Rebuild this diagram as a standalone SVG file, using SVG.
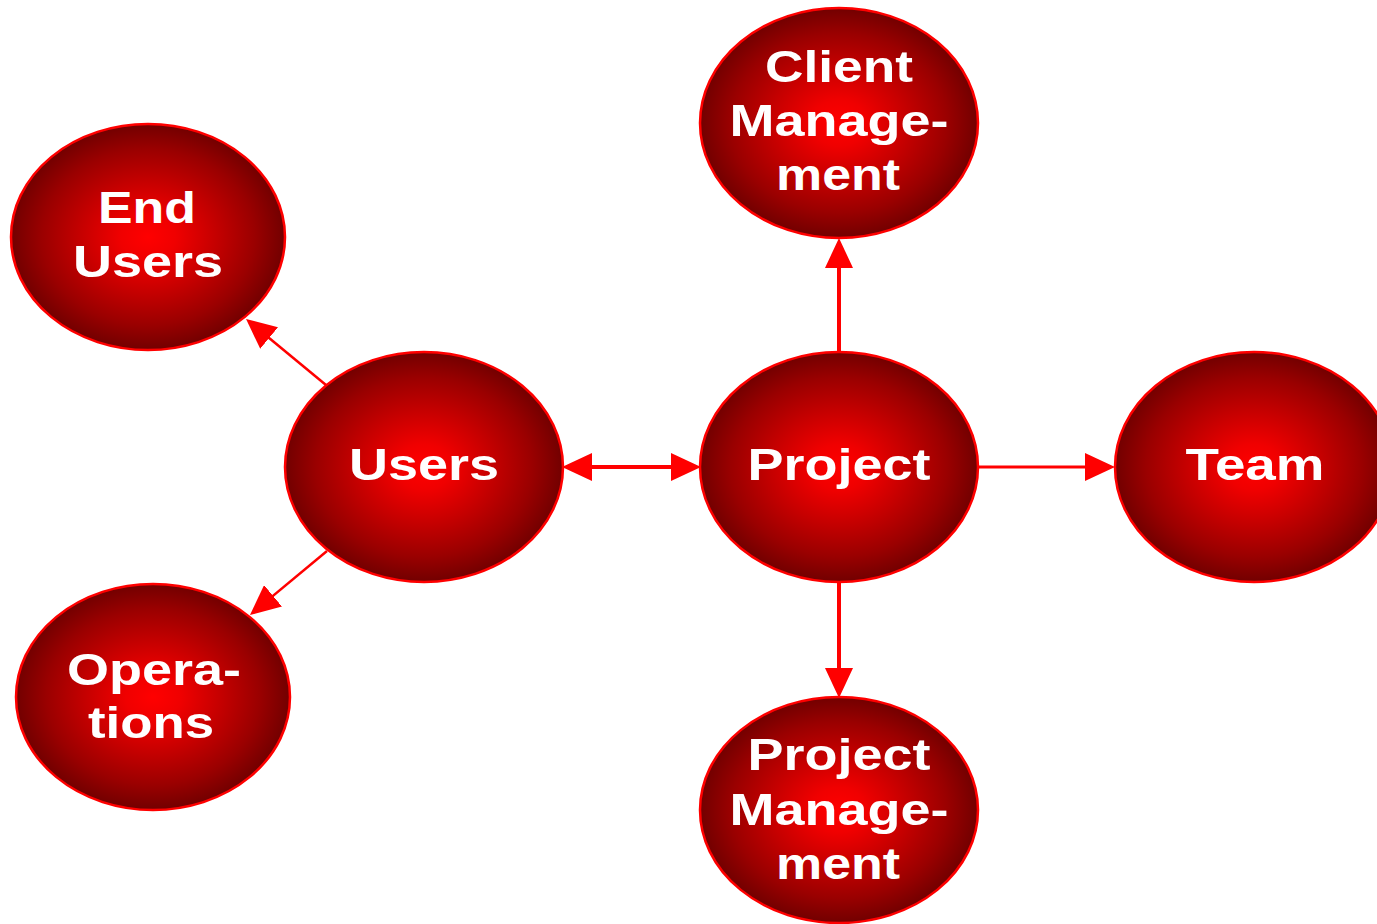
<svg xmlns="http://www.w3.org/2000/svg" width="1377" height="924" viewBox="0 0 1377 924">
  <defs>
    <radialGradient id="ballGrad" cx="0.5" cy="0.5" r="0.5">
      <stop offset="0" stop-color="#ff0000"/>
      <stop offset="0.2" stop-color="#f00000"/>
      <stop offset="0.5" stop-color="#c40000"/>
      <stop offset="0.78" stop-color="#9a0000"/>
      <stop offset="1" stop-color="#720000"/>
    </radialGradient>
    <marker id="arrow" markerUnits="userSpaceOnUse" viewBox="0 0 30 28" refX="15" refY="14" markerWidth="30" markerHeight="28" orient="auto-start-reverse">
      <path d="M0,0 L30,14 L0,28 z" fill="#ff0000"/>
    </marker>
    <style>
      .node ellipse { fill: url(#ballGrad); stroke: #ff0000; stroke-width: 2.5; }
      .node text { fill: #ffffff; font-family: "Liberation Sans", Arial, sans-serif; font-weight: bold; font-size: 44px; text-anchor: middle; }
      .edge { stroke: #ff0000; fill: none; }
    </style>
  </defs>
  <rect width="1377" height="924" fill="#ffffff"/>

  <g id="connectors">
    <line class="edge" x1="326" y1="385" x2="257.6" y2="328.5" stroke-width="2.5" marker-end="url(#arrow)"/>
    <line class="edge" x1="327" y1="551" x2="261.5" y2="605.4" stroke-width="2.5" marker-end="url(#arrow)"/>
    <line class="edge" x1="577" y1="467" x2="686" y2="467" stroke-width="4" marker-start="url(#arrow)" marker-end="url(#arrow)"/>
    <line class="edge" x1="839" y1="354" x2="839" y2="253" stroke-width="4" marker-end="url(#arrow)"/>
    <line class="edge" x1="978" y1="467" x2="1100" y2="467" stroke-width="3" marker-end="url(#arrow)"/>
    <line class="edge" x1="839" y1="582" x2="839" y2="683" stroke-width="4" marker-end="url(#arrow)"/>
  </g>

  <g id="node-end-users" class="node">
    <ellipse cx="148" cy="237" rx="137" ry="113"/>
    <text x="147" y="223" textLength="98" lengthAdjust="spacingAndGlyphs">End</text>
    <text x="148" y="277" textLength="150" lengthAdjust="spacingAndGlyphs">Users</text>
  </g>

  <g id="node-users" class="node">
    <ellipse cx="424" cy="467" rx="139" ry="115"/>
    <text x="424" y="480" textLength="150" lengthAdjust="spacingAndGlyphs">Users</text>
  </g>

  <g id="node-project" class="node">
    <ellipse cx="839" cy="467" rx="139" ry="115"/>
    <text x="839" y="480" textLength="183" lengthAdjust="spacingAndGlyphs">Project</text>
  </g>

  <g id="node-client-management" class="node">
    <ellipse cx="839" cy="123" rx="139" ry="115"/>
    <text x="839" y="82" textLength="148" lengthAdjust="spacingAndGlyphs">Client</text>
    <text x="839" y="136" textLength="219" lengthAdjust="spacingAndGlyphs">Manage-</text>
    <text x="838" y="190" textLength="124" lengthAdjust="spacingAndGlyphs">ment</text>
  </g>

  <g id="node-team" class="node">
    <ellipse cx="1254" cy="467" rx="139" ry="115"/>
    <text x="1255" y="480" textLength="139" lengthAdjust="spacingAndGlyphs">Team</text>
  </g>

  <g id="node-operations" class="node">
    <ellipse cx="153" cy="697" rx="137" ry="113"/>
    <text x="154" y="685" textLength="174" lengthAdjust="spacingAndGlyphs">Opera-</text>
    <text x="151" y="738" textLength="126" lengthAdjust="spacingAndGlyphs">tions</text>
  </g>

  <g id="node-project-management" class="node">
    <ellipse cx="839" cy="810" rx="139" ry="113"/>
    <text x="839" y="770" textLength="183" lengthAdjust="spacingAndGlyphs">Project</text>
    <text x="839" y="825" textLength="219" lengthAdjust="spacingAndGlyphs">Manage-</text>
    <text x="838" y="879" textLength="124" lengthAdjust="spacingAndGlyphs">ment</text>
  </g>
</svg>
